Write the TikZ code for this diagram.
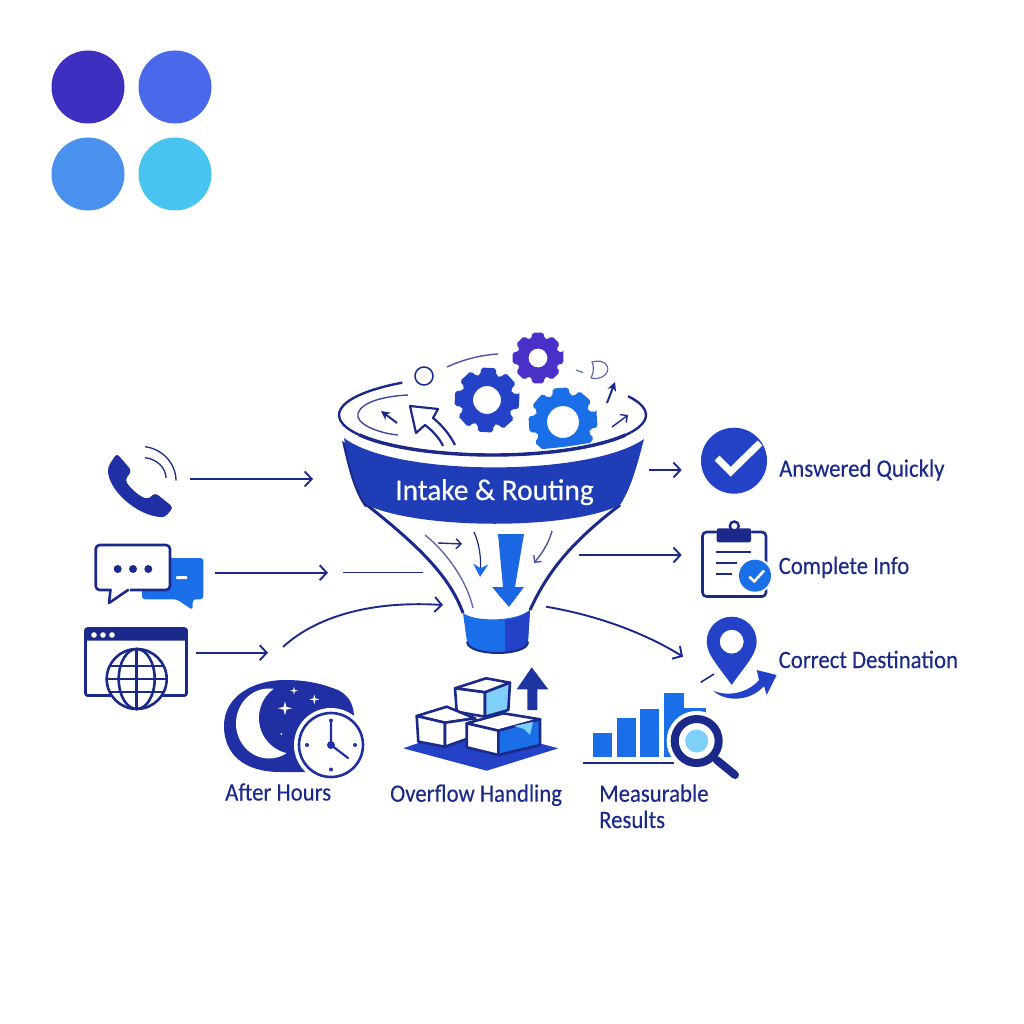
\documentclass[tikz,border=0pt]{standalone}
\usepackage{fontspec}
\setmainfont{Carlito}
\newfontfamily\labelfont[FakeStretch=0.91,FakeBold=0.25]{Carlito}
\newfontfamily\bandfont[FakeStretch=0.98,FakeBold=0.4]{Carlito}
\usetikzlibrary{arrows.meta}
\usetikzlibrary{positioning}
\definecolor{navy}{HTML}{1B2A8A}
\definecolor{indigo}{HTML}{2030A4}
\definecolor{royal}{HTML}{2342C8}
\definecolor{bright}{HTML}{1A6EE8}
\definecolor{violet}{HTML}{4A2FC8}
\definecolor{paleblue}{HTML}{7FD0F8}
\tikzstyle{arrow} = [navy,line width=1.9pt,-{Straight Barb[length=7pt,width=15pt,line width=1.9pt]}]
\tikzstyle{link} = [navy,line width=1.9pt]
\tikzstyle{tiny} = [navy,line width=1.4pt,-{Straight Barb[length=5pt,width=10pt]}]
\tikzstyle{pointed} = [navy,line width=2pt,-{Stealth[length=9pt,width=9pt]}]
\tikzstyle{outline} = [navy,line width=2.6pt,line join=round,line cap=round]
\tikzstyle{txt} = [navy,anchor=base west,inner sep=0,font=\labelfont\fontsize{25}{25}\selectfont]
\newcommand{\cog}[7]{
	\begin{scope}[shift={(#1,#2)},rotate=#7]
		\fill [#6,even odd rule,rounded corners=2pt] (-13:#3)
		\foreach \a in {0,45,...,315} {
			-- (\a-13:#3) -- (\a+13:#3) -- (\a+18:#4) -- (\a+27:#4)
		} -- cycle (0,0) circle (#5);
	\end{scope}
}
\newcommand{\sparkle}[3]{
	\fill [white] (#1-#3,#2) -- (#1-0.2*#3,#2-0.2*#3) -- (#1,#2-#3) -- (#1+0.2*#3,#2-0.2*#3) -- (#1+#3,#2) -- (#1+0.2*#3,#2+0.2*#3) -- (#1,#2+#3) -- (#1-0.2*#3,#2+0.2*#3) -- cycle;
}
\begin{document}
\begin{tikzpicture}[x=1pt,y=-1pt]
	\useasboundingbox (0,0) rectangle (1024,1024);

	\fill [fill={rgb,255:red,63;green,47;blue,192}] (88,87) circle (36.5);
	\fill [fill={rgb,255:red,74;green,104;blue,234}] (175,87) circle (36.5);
	\fill [fill={rgb,255:red,74;green,144;blue,238}] (88,174) circle (36.5);
	\fill [fill={rgb,255:red,72;green,196;blue,240}] (175,174) circle (36.5);

	\fill [indigo,rounded corners=3.5pt] (116.7,453.3) -- (131.7,470.7) -- (125,480) .. controls (131,489) and (139,496) .. (148.3,499.3) -- (155,492.7) -- (173.3,507.3) -- (165,517.3) .. controls (137,516) and (108,490) .. (108,467) -- cycle;
	\draw [navy,line width=1.3pt] (145,457.7) .. controls (157,459) and (166,468) .. (166,478);
	\draw [navy,line width=1.3pt] (145,446.7) .. controls (163,449) and (176,464) .. (176,480.7);
	\coordinate (phoneOut) at (190,479);
	\coordinate (funnelA) at (313,479);
	\draw [arrow] (phoneOut) -- (funnelA);

	\fill [bright,rounded corners=3pt] (142,558) -- (203.3,558) -- (203.3,599.3) -- (192.7,599.3) -- (192.7,610) -- (176.7,599.3) -- (142,599.3) -- cycle;
	\fill [white,rounded corners=1pt] (176,576.2) rectangle (187.3,579.2);
	\draw [outline,fill=white,rounded corners=4pt] (95.7,545) rectangle (170,590);
	\fill [white] (109,585) rectangle (130,592);
	\draw [outline,fill=white] (110.5,589.5) -- (109,603) -- (128,590);
	\foreach \x in {117.7,133,148.3}
		\fill [navy] (\x,569) circle (4);
	\coordinate (chatOut) at (215,572.7);
	\coordinate (chatIn) at (328,572.7);
	\coordinate (gapOut) at (342.7,572.5);
	\coordinate (funnelB) at (422.7,572.5);
	\draw [arrow] (chatOut) -- (chatIn);
	\draw [link] (gapOut) -- (funnelB);

	\draw [outline,rounded corners=2pt] (85.5,628.5) rectangle (186.5,695.5);
	\fill [navy,rounded corners=2pt] (84.5,628) rectangle (187.5,640.7);
	\foreach \x in {94,103,112}
		\fill [white] (\x,635) circle (2.8);
	\draw [outline,fill=white] (136.7,679) circle (30);
	\draw [outline] (136.7,679) ellipse (18 and 30);
	\draw [outline] (136.7,649) -- (136.7,709) (106.7,679) -- (166.7,679) (110,666) -- (163.4,666) (110,692) -- (163.4,692);
	\coordinate (webOut) at (196,652.7);
	\coordinate (webIn) at (268,652.7);
	\coordinate (curveOut) at (283,647);
	\coordinate (funnelC) at (443,605);
	\draw [arrow] (webOut) -- (webIn);
	\draw [arrow] (curveOut) .. controls (310,622) and (360,600) .. (funnelC);

	\fill [indigo] (224,726) .. controls (224,695) and (255,680) .. (285,680) .. controls (310,680) and (325,685) .. (338,690) .. controls (348,695) and (353,703) .. (354,715) -- (330,770) .. controls (310,773) and (290,772) .. (280,772) .. controls (245,772) and (224,755) .. (224,726) -- cycle;
	\fill [white] (269,723.5) ellipse (33 and 35);
	\fill [indigo] (295,718) circle (36);
	\sparkle{285}{708.3}{7}
	\sparkle{314.3}{699.3}{5}
	\sparkle{294}{690.7}{4}
	\fill [white] (281.3,734) circle (1);
	\fill [white] (331,745) circle (37);
	\draw [indigo,line width=2.6pt,fill=white] (331,745) circle (32);
	\foreach \x/\y in {331/720.5,331/769.5,307/745,355/745}
		\fill [indigo] (\x,\y) circle (2);
	\fill [indigo] (331,745) circle (4);
	\draw [indigo,line width=2.2pt,line cap=round] (331,722) -- (331,745) -- (348,758);
	\node (afterhours) [txt] at (225,800.5) {After Hours};

	\fill [royal] (403.3,748.3) -- (470,725) -- (558.3,748.3) -- (486.7,770.7) -- cycle;
	\fill [royal!80!black] (531.7,667.3) -- (548.3,689.3) -- (537.3,689.3) -- (537.3,710) -- (527.3,710) -- (527.3,689.3) -- (516.7,689.3) -- cycle;
	\draw [outline,fill=white] (455,688.3) -- (486,678.3) -- (510,682.7) -- (485,692.3) -- cycle;
	\draw [outline,fill=white] (455,688.3) -- (485,692.3) -- (485,716.7) -- (456.7,711.7) -- cycle;
	\draw [outline,fill=paleblue] (485,692.3) -- (510,682.7) -- (508.3,710) -- (485,716.7) -- cycle;
	\draw [outline,fill=white] (416.7,716) -- (446.7,706.7) -- (475,718.3) -- (445,722.7) -- cycle;
	\draw [outline,fill=white] (416.7,716) -- (445,722.7) -- (445,746.7) -- (418.3,741.7) -- cycle;
	\draw [outline,fill=white] (445,722.7) -- (475,718.3) -- (475,736) -- (445,746.7) -- cycle;
	\draw [outline,fill=white] (466.7,723.3) -- (503.3,713.3) -- (540,719.3) -- (498.3,730.7) -- cycle;
	\draw [outline,fill=white] (466.7,723.3) -- (498.3,730.7) -- (498.3,755) -- (466.7,747.3) -- cycle;
	\draw [outline,fill=bright] (498.3,730.7) -- (540,719.3) -- (540,745) -- (498.3,755) -- cycle;
	\fill [paleblue] (514,726) -- (533,722) -- (530,735) -- (524,729) -- cycle;
	\node (overflow) [txt] at (390,801.7) {Overflow Handling};

	\fill [bright] (593.3,732.7) rectangle (612.3,756.7);
	\fill [bright] (616.7,718.3) rectangle (635.7,756.7);
	\fill [bright] (640,709.3) rectangle (659.3,756.7);
	\fill [bright] (664,692.7) rectangle (684.3,756.7);
	\fill [bright] (684,708) rectangle (706,730);
	\draw [navy,line width=2pt] (582.7,763.3) -- (674,763.3);
	\fill [white] (696.7,741) circle (30);
	\draw [navy,line width=8pt,line cap=round] (716.7,760) -- (735,775);
	\draw [navy,line width=8pt,fill=white] (696.7,741) circle (22);
	\fill [paleblue] (696.7,741) circle (11.5);
	\node (measurable) [txt] at (599,801.7) {Measurable};
	\node (results) [txt] at (599,828) {Results};

	\cog{487}{400}{33}{26}{14}{royal}{-3}
	\cog{538}{358}{26}{20.5}{9.5}{violet}{0}
	\begin{scope}
		\clip (492.5,415) ellipse (153 and 36);
		\cog{563}{422}{35}{28}{16}{bright}{4}
	\end{scope}
	\draw [navy,line width=1.5pt] (424,376) circle (9);
	\draw [navy!80,line width=1.4pt] (447,367) .. controls (462,360) and (480,355) .. (498,354);
	\draw [navy!70,line width=1.2pt] (576,370) -- (583,372.5);
	\draw [navy!70,line width=1.2pt,line join=round] (592,362) .. controls (605,358) and (612,368) .. (605,375) .. controls (600,379) and (595,379) .. (591,378) .. controls (594,372) and (594,367) .. (592,362) -- cycle;
	\coordinate (smallA) at (607,403);
	\coordinate (smallB) at (615,382);
	\coordinate (smallC) at (612,427);
	\coordinate (smallD) at (628,415);
	\coordinate (smallE) at (397,423);
	\coordinate (smallF) at (381,411);
	\draw [pointed] (smallA) -- (smallB);
	\draw [tiny] (smallC) -- (smallD);
	\draw [pointed] (smallE) -- (smallF);
	\draw [navy!85,line width=1.4pt] (408,395) .. controls (370,397) and (356,408) .. (358,417) .. controls (360,425) and (378,433) .. (398,435);
	\draw [navy,line width=2.2pt,line join=round,fill=white] (455,445) .. controls (450,435) and (442,425) .. (433,418) -- (438,409) -- (410,406) -- (416,433) -- (425,425) .. controls (433,431) and (440,439) .. (443,446);

	\draw [navy,line width=2.4pt] (492.5,415) ++(234:153.5 and 40) arc[start angle=234,end angle=-28,x radius=153.5,y radius=40];
	\draw [navy,line width=3.4pt] (492.5,415) ++(150:153.5 and 40) arc[start angle=150,end angle=30,x radius=153.5,y radius=40];

	\draw [navy,line width=3pt] (367,505) .. controls (420,547) and (450,577) .. (463,613);
	\draw [navy,line width=3pt] (620,505) .. controls (570,543) and (547,573) .. (530,610);
	\draw [navy!70,line width=1.4pt] (425,535) .. controls (450,555) and (468,585) .. (473,608);
	\fill [navy] (342,441) .. controls (348,468) and (354,492) .. (365,507) -- (370,505) .. controls (358,488) and (352,470) .. (347,444) -- cycle;
	\shade [left color=royal!92!black,middle color=royal,right color=royal!92!black] (344,438) .. controls (395,477) and (590,477) .. (644,439) .. controls (636,470) and (630,490) .. (620,505) .. controls (570,530) and (420,530) .. (367,505) .. controls (356,490) and (350,470) .. (344,438) -- cycle;
	\node (routing) [white,anchor=base west,inner sep=0,font=\bandfont\fontsize{30}{30}\selectfont] at (395,500) {Intake \& Routing};

	\coordinate (flowA) at (438,543);
	\coordinate (flowB) at (462,544);
	\coordinate (flowC) at (474,532);
	\coordinate (flowD) at (480,577);
	\coordinate (flowE) at (552,531);
	\coordinate (flowF) at (534,563);
	\draw [tiny] (flowA) -- (flowB);
	\draw [navy,line width=1.2pt,-{Stealth[length=13pt,width=15pt,bright]}] (flowC) .. controls (480,545) and (481,560) .. (flowD);
	\draw [tiny,navy!80] (flowE) .. controls (548,545) and (542,553) .. (flowF);
	\fill [bright!85!royal] (498,534) -- (524,534) -- (515,587) -- (524,587) -- (509,607) -- (492,587) -- (503,587) -- cycle;

	\fill [bright] (463,613) .. controls (475,622) and (515,622) .. (530,610) -- (528,642) .. controls (528,650) and (510,653) .. (498,653) .. controls (485,653) and (468,650) .. (467,642) -- cycle;
	\fill [royal] (505,619.5) .. controls (515,619) and (524,615) .. (530,610) -- (528,642) .. controls (528,648) and (516,651) .. (505,652.5) -- cycle;
	\draw [navy,line width=2pt] (467,642) .. controls (468,650) and (485,653) .. (498,653) .. controls (510,653) and (528,650) .. (528,642);

	\coordinate (okIn) at (649,470);
	\coordinate (okOut) at (681.7,470);
	\coordinate (infoIn) at (579,555);
	\coordinate (infoOut) at (681.7,555);
	\coordinate (destIn) at (546,606.7);
	\coordinate (destOut) at (683,656.7);
	\draw [arrow] (okIn) -- (okOut);
	\draw [arrow] (infoIn) -- (infoOut);
	\draw [arrow] (destIn) .. controls (590,614) and (640,630) .. (destOut);

	\fill [royal] (734,460.7) circle (33);
	\draw [white,line width=7pt] (717,458) -- (730.7,471.7) -- (760,443);
	\node (answered) [txt] at (779,476.7) {Answered Quickly};

	\draw [outline,rounded corners=4pt] (716,532) -- (702.5,532) -- (702.5,596.5) -- (766,596.5) -- (766,532) -- (752,532);
	\fill [navy,rounded corners=2pt] (716.7,528.3) rectangle (751,542.3);
	\draw [navy,line width=2.4pt,fill=white] (734.3,526) circle (4.5);
	\draw [navy,line width=2pt] (716,552) -- (751,552) (716,562.7) -- (736.7,562.7) (716,574) -- (731.7,574);
	\fill [white] (755,575.7) circle (18);
	\fill [bright] (755,575.7) circle (16);
	\draw [white,line width=2.6pt] (749.3,576.7) -- (754.3,581.3) -- (764,570.7);
	\node (complete) [txt] at (778.5,574) {Complete Info};

	\fill [royal,even odd rule] (731.7,685) .. controls (720,668) and (706.7,655) .. (706.7,641.7) arc[start angle=180,end angle=360,radius=25] .. controls (756.7,655) and (743,668) .. (731.7,685) -- cycle (731.7,641.7) circle (12);
	\fill [royal] (713.3,690.7) .. controls (728,697) and (748,693) .. (759,680) -- (756.7,670) -- (776.7,675) -- (766.7,695) -- (764,686) .. controls (750,702) and (725,702) .. (713.3,690.7) -- cycle;
	\draw [navy,line width=1.6pt] (700.7,682.3) -- (714,674);
	\node (destination) [txt] at (778.5,668) {Correct Destination};
\end{tikzpicture}
\end{document}
